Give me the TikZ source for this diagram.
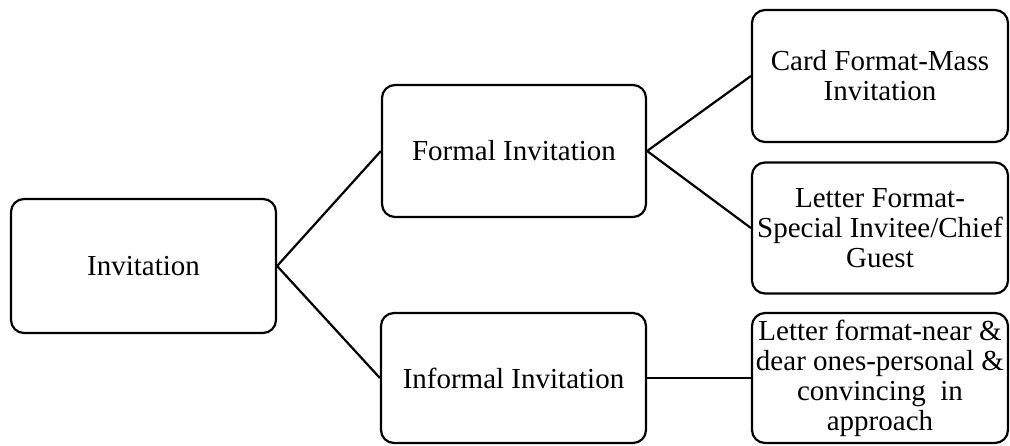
\documentclass[tikz,border=0pt]{standalone}
\usepackage{fontspec}
\setmainfont{Liberation Serif}
\usepackage{tikz}
\tikzset{
  invbox/.style={draw, line width=2.2pt, rounded corners=13pt, align=center,
    inner sep=0pt, font=\fontsize{29}{30}\selectfont},
  link/.style={line width=2.2pt}
}

\begin{document}
\begin{tikzpicture}[x=1pt,y=-1pt]
\useasboundingbox (0,0) rectangle (1010,445);
\node[invbox, minimum width=265pt, minimum height=134pt] (inv) at (143.5,266) {Invitation};
\node[invbox, minimum width=264pt, minimum height=132pt] (formal) at (514,151) {Formal Invitation};
\node[invbox, minimum width=265pt, minimum height=130pt] (informal) at (513.5,378) {Informal Invitation};
\node[invbox, minimum width=256pt, minimum height=132pt] (card) at (880,76) {Card Format-Mass\\Invitation};
\node[invbox, minimum width=256pt, minimum height=131pt] (special) at (880,228) {Letter Format-\\Special Invitee/Chief\\Guest};
\node[invbox, minimum width=256pt, minimum height=130pt] (personal) at (880,378) {Letter format-near \&\\dear ones-personal \&\\convincing~~in\\approach};
\draw[link] (inv.east) -- (formal.west);
\draw[link] (inv.east) -- (informal.west);
\draw[link] (formal.east) -- (card.west);
\draw[link] (formal.east) -- (special.west);
\draw[link] (informal.east) -- (personal.west);
\end{tikzpicture}
\end{document}
